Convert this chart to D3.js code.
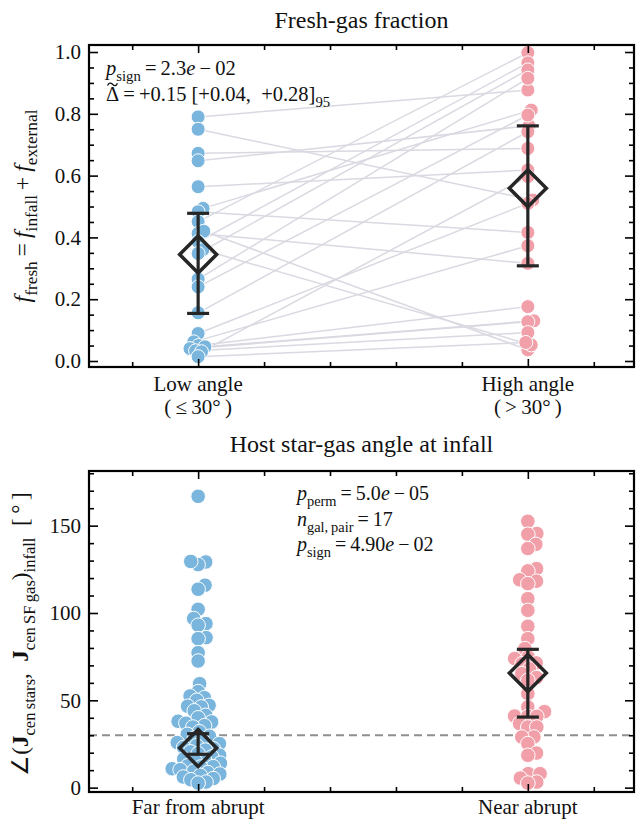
<!DOCTYPE html>
<html>
<head>
<meta charset="utf-8">
<script src="https://cdn.jsdelivr.net/npm/d3@7"></script>
<style>
  body { margin: 0; background: #fff; }
  text { font-family: "Liberation Serif", "Times New Roman", serif; fill: #111; }
</style>
</head>
<body>
<svg id="chart"></svg>
<script>
// data: fresh-gas fraction, paired (index i of low <-> index i of high)
var lowAngle  = [0.79, 0.75, 0.672, 0.648, 0.564, 0.494, 0.483, 0.451, 0.413, 0.42, 0.386, 0.36,
                 0.348, 0.265, 0.24, 0.156, 0.089, 0.062, 0.05, 0.046, 0.04, 0.033, 0.03, 0.014];
var highAngle = [0.877, 0.521, 0.688, 0.761, 0.618, 0.812, 0.416, 0.998, 0.316, 0.036, 0.965, 0.052,
                 0.942, 0.915, 0.796, 0.742, 0.51, 0.373, 0.176, 0.13, 0.127, 0.092, 0.597, 0.06];
var freshCats = ["Low angle", "High angle"];
var freshSubCats = ["(\u2009\u2264\u200930\u00b0\u2009)", "(\u2009>\u200930\u00b0\u2009)"];
var freshMid = [0.345, 0.559];
var freshLo  = [0.154, 0.308];
var freshHi  = [0.478, 0.761];
var freshTicks = [0.0, 0.2, 0.4, 0.6, 0.8, 1.0];

// data: host star-gas angle at infall
var angleFar = [166.8, 129.2, 127.7, 129.5, 115.9, 113.6, 102.1, 96.8, 93.9, 93, 85.9, 85.3, 77.3, 72.5,
                59.5, 55, 51.5, 52.5, 50, 47.1, 46.6, 46.2, 44, 41.4, 40, 38, 37.6, 36.9, 35.5, 34.7,
                32, 30.5, 29.4, 28.4, 27, 25.8, 25.2, 24, 23, 22.3, 21.5, 20.5, 19.5,
                18.6, 17.6, 16.5, 15.8, 15.2, 14, 12.5, 12, 11.8, 10.8, 10.3,
                9.5, 8.6, 7.8, 7, 6.1, 5.2, 4.5, 3.2, 2.6];
var angleNear = [152.5, 145.5, 145.1, 139.3, 136.9, 125.4, 124.1, 119, 118.2, 116.8, 108.2, 101.5,
                 92.4, 85.3, 79.6, 74.8, 73.9, 71.4, 71, 68, 65.3, 63, 61.5, 53.8, 46.2, 43.5, 41,
                 40.8, 40.8, 36.7, 34.7, 34.7, 29, 29, 25.2, 19.8, 18.5, 8, 8, 5.5, 3.2, 2.6];
var angleCats = ["Far from abrupt", "Near abrupt"];
var angleMid = [22.7, 65.6];
var angleLo  = [19.1, 40.4];
var angleHi  = [30.9, 79.2];
var angleTicks = [0, 50, 100, 150];
var angleRef = 30;

var width = 636, height = 820;
var left = 89, right = 634;
var blue = "#79b5dc", pink = "#f1a0a9", dark = "#262626";

var svg = d3.select("#chart").attr("width", width).attr("height", height);

var x = d3.scaleLinear().domain([-0.331, 1.322]).range([left, right]);
var yTop = d3.scaleLinear().domain([-0.0194, 1.0227]).range([367, 45]);
var yBot = d3.scaleLinear().domain([-2.5, 181.3]).range([792, 471]);

// simple beeswarm: px offsets so dots don't pile up on one another
function swarm(values, y, d) {
  var order = values.map(function (v, i) { return i; })
    .sort(function (a, b) { return values[a] - values[b]; });
  var placed = [], off = new Array(values.length);
  order.forEach(function (i) {
    var py = y(values[i]);
    var near = placed.filter(function (p) { return Math.abs(p.y - py) < d; });
    var cands = [0];
    near.forEach(function (p) {
      var dx = Math.sqrt(d * d - (p.y - py) * (p.y - py));
      cands.push(p.x + dx, p.x - dx);
    });
    cands.sort(function (a, b) { return Math.abs(a) - Math.abs(b); });
    var best = cands.find(function (c) {
      return near.every(function (p) {
        return (p.x - c) * (p.x - c) + (p.y - py) * (p.y - py) >= d * d - 0.01;
      });
    });
    off[i] = best;
    placed.push({x: best, y: py});
  });
  return off;
}

function mathText(t, parts, fs) {
  var cur = 0;
  parts.forEach(function (p) {
    var target = p.sub ? fs * 0.3 : 0;
    t.append("tspan")
      .text(p.t)
      .attr("dy", target - cur)
      .style("font-size", (p.sub ? fs * 0.72 : fs) + "px")
      .style("font-style", p.i ? "italic" : "normal")
      .style("font-weight", p.b ? "bold" : "normal");
    cur = target;
  });
}

function frame(y, y0, y1, major, minor, fmt) {
  var g = svg.append("g");
  var xMinor = [-0.2, 0.2, 0.4, 0.6, 0.8, 1.2];
  function strip(a) { a.select(".domain").remove(); a.selectAll("line").attr("stroke", "#000").attr("stroke-width", 1.6); }

  var la = g.append("g").attr("transform", "translate(" + left + ",0)")
    .call(d3.axisLeft(y).tickValues(major).tickSize(-9).tickPadding(8).tickFormat(fmt));
  strip(la);
  la.selectAll("text").style("font-size", "21px").style("font-family", "Liberation Serif").attr("fill", "#111");
  strip(g.append("g").attr("transform", "translate(" + left + ",0)")
    .call(d3.axisLeft(y).tickValues(minor).tickSize(-5).tickFormat("")));
  strip(g.append("g").attr("transform", "translate(" + right + ",0)")
    .call(d3.axisRight(y).tickValues(major).tickSize(-9).tickFormat("")));
  strip(g.append("g").attr("transform", "translate(" + right + ",0)")
    .call(d3.axisRight(y).tickValues(minor).tickSize(-5).tickFormat("")));
  strip(g.append("g").attr("transform", "translate(0," + y0 + ")")
    .call(d3.axisBottom(x).tickValues([0, 1]).tickSize(-8).tickFormat("")));
  strip(g.append("g").attr("transform", "translate(0," + y0 + ")")
    .call(d3.axisBottom(x).tickValues(xMinor).tickSize(-5).tickFormat("")));
  strip(g.append("g").attr("transform", "translate(0," + y1 + ")")
    .call(d3.axisTop(x).tickValues([0, 1]).tickSize(-8).tickFormat("")));
  strip(g.append("g").attr("transform", "translate(0," + y1 + ")")
    .call(d3.axisTop(x).tickValues(xMinor).tickSize(-5).tickFormat("")));

  g.append("rect").attr("x", left).attr("y", y1).attr("width", right - left).attr("height", y0 - y1)
    .attr("fill", "none").attr("stroke", "#000").attr("stroke-width", 2.2);
}

function summary(g, y, mid, lo, hi) {
  mid.forEach(function (m, i) {
    var cx = x(i);
    g.append("line").attr("x1", cx).attr("x2", cx).attr("y1", y(lo[i])).attr("y2", y(hi[i]))
      .attr("stroke", dark).attr("stroke-width", 3.2);
    [lo[i], hi[i]].forEach(function (v) {
      g.append("line").attr("x1", cx - 11).attr("x2", cx + 11).attr("y1", y(v)).attr("y2", y(v))
        .attr("stroke", dark).attr("stroke-width", 3.2);
    });
    var cy = y(m), s = 18.5;
    g.append("path")
      .attr("d", "M" + cx + "," + (cy - s) + "L" + (cx + s) + "," + cy + "L" + cx + "," + (cy + s) + "L" + (cx - s) + "," + cy + "Z")
      .attr("fill", "none").attr("stroke", dark).attr("stroke-width", 3.5);
  });
}

// ---------- top panel ----------
var fmt1 = d3.format(".1f");
var minorTop = d3.range(0, 1.001, 0.05).filter(function (v) { return Math.abs(v * 5 - Math.round(v * 5)) > 1e-6; });

var offLow = swarm(lowAngle, yTop, 6);
var offHigh = swarm(highAngle, yTop, 6);

var gTop = svg.append("g");
gTop.selectAll("line.pair").data(lowAngle).enter().append("line")
  .attr("class", "pair")
  .attr("x1", function (d, i) { return x(0) + offLow[i]; })
  .attr("y1", function (d) { return yTop(d); })
  .attr("x2", function (d, i) { return x(1) + offHigh[i]; })
  .attr("y2", function (d, i) { return yTop(highAngle[i]); })
  .attr("stroke", "#d9d9e2").attr("stroke-width", 1.5);

gTop.selectAll("circle.low").data(lowAngle).enter().append("circle")
  .attr("cx", function (d, i) { return x(0) + offLow[i]; })
  .attr("cy", function (d) { return yTop(d); })
  .attr("r", 7).attr("fill", blue).attr("stroke", "#fff").attr("stroke-width", 1);
gTop.selectAll("circle.high").data(highAngle).enter().append("circle")
  .attr("cx", function (d, i) { return x(1) + offHigh[i]; })
  .attr("cy", function (d) { return yTop(d); })
  .attr("r", 7).attr("fill", pink).attr("stroke", "#fff").attr("stroke-width", 1);

summary(gTop, yTop, freshMid, freshLo, freshHi);
frame(yTop, 367, 45, freshTicks, minorTop, fmt1);

svg.append("text").attr("x", (left + right) / 2).attr("y", 28).attr("text-anchor", "middle")
  .style("font-size", "24px").text("Fresh-gas fraction");

freshCats.forEach(function (c, i) {
  svg.append("text").attr("x", x(i)).attr("y", 391).attr("text-anchor", "middle").style("font-size", "21px").text(c);
  svg.append("text").attr("x", x(i)).attr("y", 414).attr("text-anchor", "middle").style("font-size", "21px").text(freshSubCats[i]);
});

mathText(svg.append("text").attr("x", 106).attr("y", 75), [
  {t: "p", i: true}, {t: "sign", sub: true}, {t: "\u2009=\u20092.3"}, {t: "e", i: true}, {t: "\u2009\u2212\u200902"}
], 20.5);
mathText(svg.append("text").attr("x", 106).attr("y", 101), [
  {t: "\u0394"}, {t: "\u2009=\u2009+0.15 [+0.04,\u2002+0.28]"}, {t: "95", sub: true}
], 20.5);
// tilde accent over the Delta
svg.append("path")
  .attr("d", "M107.5,85.5 C109,82.3 111,82.6 112.5,84.2 S116,86.6 117.5,83.2")
  .attr("fill", "none").attr("stroke", "#111").attr("stroke-width", 1.3);

mathText(svg.append("text").attr("transform", "translate(30,206) rotate(-90)").attr("text-anchor", "middle"), [
  {t: "f", i: true}, {t: "fresh", sub: true}, {t: "\u2009=\u2009"}, {t: "f", i: true}, {t: "infall", sub: true},
  {t: "\u2009+\u2009"}, {t: "f", i: true}, {t: "external", sub: true}
], 24);

// ---------- bottom panel ----------
var minorBot = d3.range(0, 181, 10).filter(function (v) { return v % 50 !== 0; });
var offFar = swarm(angleFar, yBot, 8);
var offNear = swarm(angleNear, yBot, 9);

var gBot = svg.append("g");
gBot.append("line").attr("x1", left).attr("x2", right).attr("y1", yBot(angleRef)).attr("y2", yBot(angleRef))
  .attr("stroke", "#8f8f8f").attr("stroke-width", 2).attr("stroke-dasharray", "8,5");

gBot.selectAll("circle.far").data(angleFar).enter().append("circle")
  .attr("cx", function (d, i) { return x(0) + offFar[i]; })
  .attr("cy", function (d) { return yBot(d); })
  .attr("r", 7.3).attr("fill", blue).attr("stroke", "#fff").attr("stroke-width", 1);
gBot.selectAll("circle.near").data(angleNear).enter().append("circle")
  .attr("cx", function (d, i) { return x(1) + offNear[i]; })
  .attr("cy", function (d) { return yBot(d); })
  .attr("r", 7.3).attr("fill", pink).attr("stroke", "#fff").attr("stroke-width", 1);

summary(gBot, yBot, angleMid, angleLo, angleHi);
frame(yBot, 792, 471, angleTicks, minorBot, d3.format("d"));

svg.append("text").attr("x", (left + right) / 2).attr("y", 452).attr("text-anchor", "middle")
  .style("font-size", "24px").text("Host star-gas angle at infall");

angleCats.forEach(function (c, i) {
  svg.append("text").attr("x", x(i)).attr("y", 814).attr("text-anchor", "middle").style("font-size", "21px").text(c);
});

mathText(svg.append("text").attr("x", 297).attr("y", 500), [
  {t: "p", i: true}, {t: "perm", sub: true}, {t: "\u2009=\u20095.0"}, {t: "e", i: true}, {t: "\u2009\u2212\u200905"}
], 20);
mathText(svg.append("text").attr("x", 297).attr("y", 526), [
  {t: "n", i: true}, {t: "gal,\u2009pair", sub: true}, {t: "\u2009=\u200917"}
], 20);
mathText(svg.append("text").attr("x", 297).attr("y", 551), [
  {t: "p", i: true}, {t: "sign", sub: true}, {t: "\u2009=\u20094.90"}, {t: "e", i: true}, {t: "\u2009\u2212\u200902"}
], 20);

mathText(svg.append("text").attr("transform", "translate(28,634) rotate(-90)").attr("text-anchor", "middle"), [
  {t: "\u2220("}, {t: "J", b: true}, {t: "cen\u2009stars", sub: true}, {t: ",\u2002"}, {t: "J", b: true},
  {t: "cen\u2009SF\u2009gas", sub: true}, {t: ")"}, {t: "infall", sub: true}, {t: "\u2002[\u2009\u00b0\u2009]"}
], 23);
</script>
</body>
</html>
